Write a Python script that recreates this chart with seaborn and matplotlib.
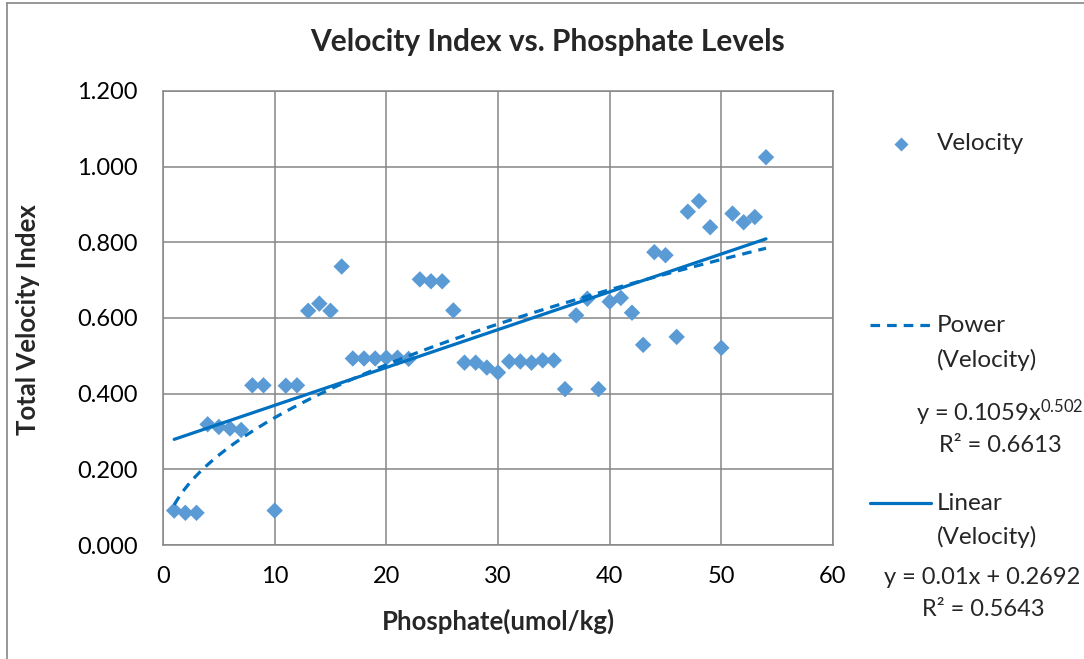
import numpy as np
import pandas as pd
import matplotlib
matplotlib.use("Agg")
import matplotlib.pyplot as plt
from matplotlib.lines import Line2D
import seaborn as sns

# Observations
phosphate = [1, 2, 3, 4, 5, 6, 7, 8, 9, 10,
             11, 12, 13, 14, 15, 16, 17, 18, 19, 20,
             21, 22, 23, 24, 25, 26, 27, 28, 29, 30,
             31, 32, 33, 34, 35, 36, 37, 38, 39, 40,
             41, 42, 43, 44, 45, 46, 47, 48, 49, 50,
             51, 52, 53, 54]
velocity = [0.091, 0.085, 0.085, 0.319, 0.312, 0.308, 0.304, 0.422, 0.422, 0.091,
            0.421, 0.422, 0.619, 0.638, 0.619, 0.736, 0.493, 0.493, 0.493, 0.495,
            0.495, 0.492, 0.702, 0.697, 0.697, 0.620, 0.482, 0.482, 0.469, 0.456,
            0.485, 0.485, 0.482, 0.488, 0.488, 0.412, 0.607, 0.651, 0.412, 0.643,
            0.653, 0.614, 0.529, 0.774, 0.766, 0.550, 0.881, 0.909, 0.840, 0.521,
            0.876, 0.853, 0.867, 1.025]

# Trendline coefficients
power_a, power_b, power_r2 = 0.1059, 0.502, 0.6613
lin_m, lin_c, lin_r2 = 0.01, 0.2692, 0.5643

x_ticks = [0, 10, 20, 30, 40, 50, 60]
y_ticks = [0.0, 0.2, 0.4, 0.6, 0.8, 1.0, 1.2]

POINT_BLUE = "#5B9BD5"
LINE_BLUE = "#0070C0"
GRID = "#868686"

sns.set_theme(style="white")
plt.rcParams["font.family"] = ["Lato", "DejaVu Sans"]
plt.rcParams["mathtext.fontset"] = "custom"
plt.rcParams["mathtext.rm"] = "Lato"
plt.rcParams["mathtext.it"] = "Lato"

W, H = 1084, 659
fig = plt.figure(figsize=(W / 100, H / 100), dpi=100)
fig.patch.set_facecolor("white")
ax = fig.add_axes([163 / W, 1 - 545 / H, (833 - 163) / W, (545 - 91) / H])

df = pd.DataFrame({"Phosphate": phosphate, "Velocity": velocity})

xs = np.linspace(min(phosphate), max(phosphate), 300)
trend = pd.DataFrame({
    "x": xs,
    "power": power_a * xs ** power_b,
    "linear": lin_m * xs + lin_c,
})

sns.scatterplot(data=df, x="Phosphate", y="Velocity", marker="D", s=70,
                color=POINT_BLUE, edgecolor="none", ax=ax, zorder=3)
sns.lineplot(data=trend, x="x", y="power", color=LINE_BLUE, lw=2.3,
             linestyle=(0, (3, 2.2)), ax=ax, zorder=4)
sns.lineplot(data=trend, x="x", y="linear", color=LINE_BLUE, lw=2.3,
             ax=ax, zorder=4)

ax.set_xlim(0, 60)
ax.set_ylim(0, 1.2)
ax.set_xticks(x_ticks)
ax.set_yticks(y_ticks)
ax.set_xticklabels([str(t) for t in x_ticks])
ax.set_yticklabels([f"{t:.3f}" for t in y_ticks])
ax.grid(True, color=GRID, lw=1.1)
ax.set_axisbelow(True)
for sp in ax.spines.values():
    sp.set_color(GRID)
    sp.set_linewidth(1.1)
ax.tick_params(axis="both", direction="out", length=6, width=1.1, color=GRID,
               labelsize=17, labelcolor="black")
ax.tick_params(axis="x", pad=9)
ax.tick_params(axis="y", pad=12)

ax.set_xlabel("")
ax.set_ylabel("")
fig.text(498 / W, 1 - 621 / H, "Phosphate(umol/kg)", ha="center", va="center",
         fontsize=18.5, fontweight="bold")
fig.text(28 / W, 1 - 320 / H, "Total Velocity Index", ha="center", va="center",
         rotation=90, fontsize=18.5, fontweight="bold")
fig.text(548 / W, 1 - 42 / H, "Velocity Index vs. Phosphate Levels",
         ha="center", va="center", fontsize=21.5, fontweight="bold")

# Outer chart frame (left and top edges)
fig.add_artist(Line2D([7 / W, 7 / W], [0, 1 - 3 / H], transform=fig.transFigure,
                      color=GRID, lw=1.2))
fig.add_artist(Line2D([7 / W, 1], [1 - 3 / H, 1 - 3 / H], transform=fig.transFigure,
                      color=GRID, lw=1.2))

# Legend
def fx(px):
    return px / W

def fy(py):
    return 1 - py / H

LEG_FS = 17.5

fig.add_artist(Line2D([fx(901)], [fy(144)], transform=fig.transFigure, marker="D",
                      markersize=7.5, color=POINT_BLUE, markeredgecolor="none",
                      linestyle="none"))
fig.text(fx(937), fy(144), "Velocity", ha="left", va="center", fontsize=LEG_FS)

fig.add_artist(Line2D([fx(870), fx(931)], [fy(325), fy(325)], transform=fig.transFigure,
                      color=LINE_BLUE, lw=2.3, linestyle=(0, (3, 2.2))))
fig.text(fx(937), fy(325), "Power", ha="left", va="center", fontsize=LEG_FS)
fig.text(fx(937), fy(360), "(Velocity)", ha="left", va="center", fontsize=LEG_FS)
fig.text(fx(1000), fy(413), f"y = {power_a}x$^{{{power_b}}}$", ha="center",
         va="center", fontsize=LEG_FS - 0.5)
fig.text(fx(1000), fy(445), f"R\u00b2 = {power_r2}", ha="center", va="center",
         fontsize=LEG_FS - 0.5)

fig.add_artist(Line2D([fx(870), fx(931)], [fy(503), fy(503)], transform=fig.transFigure,
                      color=LINE_BLUE, lw=2.3))
fig.text(fx(937), fy(503), "Linear", ha="left", va="center", fontsize=LEG_FS)
fig.text(fx(937), fy(537), "(Velocity)", ha="left", va="center", fontsize=LEG_FS)
fig.text(fx(982), fy(578), f"y = {lin_m}x + {lin_c}", ha="center", va="center",
         fontsize=LEG_FS - 0.5)
fig.text(fx(983), fy(609), f"R\u00b2 = {lin_r2}", ha="center", va="center",
         fontsize=LEG_FS - 0.5)

fig.savefig("out.png", dpi=100, facecolor="white")
